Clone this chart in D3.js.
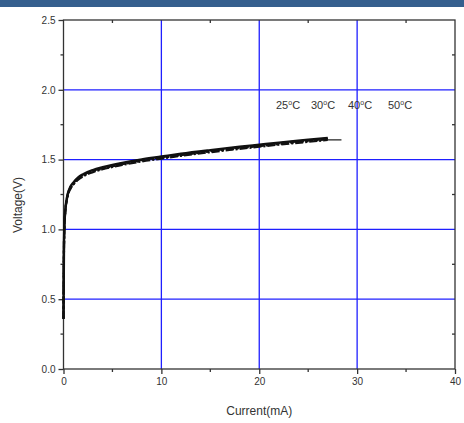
<!DOCTYPE html>
<html>
<head>
<meta charset="utf-8">
<script src="https://cdn.jsdelivr.net/npm/d3@7"></script>
<style>
  body { margin: 0; background: #fff; }
  svg { display: block; font-family: "Liberation Sans", Arial, sans-serif; }
</style>
</head>
<body>
<svg></svg>
<script>
// I-V curves
const current = [0, 0.05, 0.1, 0.2, 0.4, 0.7, 1, 1.5, 2, 3, 4, 5, 6, 8, 10, 12, 15, 18, 20, 22, 25, 27];
const v25 = [0.36, 0.9, 1.05, 1.15, 1.245, 1.305, 1.335, 1.372, 1.395, 1.425, 1.445, 1.462, 1.477, 1.502, 1.522, 1.542, 1.568, 1.592, 1.607, 1.622, 1.642, 1.656];
const v30 = [0.36, 0.89, 1.04, 1.145, 1.24, 1.3, 1.33, 1.367, 1.39, 1.42, 1.44, 1.457, 1.472, 1.497, 1.517, 1.537, 1.563, 1.587, 1.602, 1.617, 1.637, 1.651];
const v40 = [0.36, 0.88, 1.03, 1.14, 1.235, 1.295, 1.325, 1.362, 1.385, 1.415, 1.436, 1.452, 1.467, 1.492, 1.512, 1.532, 1.558, 1.582, 1.597, 1.612, 1.632, 1.646];
const v50 = [0.36, 0.87, 1.02, 1.135, 1.23, 1.29, 1.32, 1.357, 1.38, 1.41, 1.431, 1.447, 1.462, 1.487, 1.507, 1.527, 1.553, 1.577, 1.592, 1.607, 1.627, 1.641];
// the 50°C trace runs a bit further
const tailI = [27, 28.4];
const tailV = [1.641, 1.642];
const tempLabels = ["25", "30", "40", "50"];
const xTicks = [0, 10, 20, 30, 40];
const yTicks = [0.0, 0.5, 1.0, 1.5, 2.0, 2.5];

(function chart() {
  const W = 464, H = 423;
  const svg = d3.select("svg").attr("width", W).attr("height", H);

  // blue strip across the top
  svg.append("rect").attr("x", 0).attr("y", 0).attr("width", W).attr("height", 7).attr("fill", "#355f8e");

  const mLeft = 63.5, mRight = 455, mTop = 20, mBottom = 369;
  const x = d3.scaleLinear().domain([0, 40]).range([mLeft, mRight]);
  const y = d3.scaleLinear().domain([0, 2.5]).range([mBottom, mTop]);

  const axisCol = "#333";
  const gridCol = "#1f1fff";

  // grid
  svg.append("g").selectAll("line").data(xTicks.filter(d => d > 0 && d < 40)).join("line")
      .attr("x1", d => x(d)).attr("x2", d => x(d)).attr("y1", mTop).attr("y2", mBottom)
      .attr("stroke", gridCol).attr("stroke-width", 1.3);
  svg.append("g").selectAll("line").data(yTicks.filter(d => d > 0 && d < 2.5)).join("line")
      .attr("x1", mLeft).attr("x2", mRight).attr("y1", d => y(d)).attr("y2", d => y(d))
      .attr("stroke", gridCol).attr("stroke-width", 1.3);

  // frame
  svg.append("rect").attr("x", mLeft).attr("y", mTop).attr("width", mRight - mLeft).attr("height", mBottom - mTop)
      .attr("fill", "none").attr("stroke", axisCol).attr("stroke-width", 1.3);

  // bottom axis
  const xAxis = svg.append("g").attr("transform", `translate(0,${mBottom})`)
      .call(d3.axisBottom(x).tickValues(xTicks).tickSize(5).tickPadding(4).tickFormat(d3.format("d")));
  // left axis
  const yAxis = svg.append("g").attr("transform", `translate(${mLeft},0)`)
      .call(d3.axisLeft(y).tickValues(yTicks).tickSize(5).tickPadding(3).tickFormat(d3.format(".1f")));
  [xAxis, yAxis].forEach(g => {
    g.select(".domain").remove();
    g.selectAll("line").attr("stroke", axisCol).attr("stroke-width", 1.3);
    g.selectAll("text").attr("fill", "#333").style("font-size", "10px");
  });

  // minor ticks
  const xMinor = [5, 15, 25, 35];
  const yMinor = [0.25, 0.75, 1.25, 1.75, 2.25];
  svg.append("g").selectAll("line").data(xMinor).join("line")
      .attr("x1", d => x(d)).attr("x2", d => x(d)).attr("y1", mBottom).attr("y2", mBottom + 3)
      .attr("stroke", axisCol).attr("stroke-width", 1.3);
  svg.append("g").selectAll("line").data(xMinor).join("line")
      .attr("x1", d => x(d)).attr("x2", d => x(d)).attr("y1", mTop).attr("y2", mTop + 3)
      .attr("stroke", axisCol).attr("stroke-width", 1.3);
  svg.append("g").selectAll("line").data(yMinor).join("line")
      .attr("x1", mLeft - 3).attr("x2", mLeft).attr("y1", d => y(d)).attr("y2", d => y(d))
      .attr("stroke", axisCol).attr("stroke-width", 1.3);
  svg.append("g").selectAll("line").data(yMinor).join("line")
      .attr("x1", mRight - 3).attr("x2", mRight).attr("y1", d => y(d)).attr("y2", d => y(d))
      .attr("stroke", axisCol).attr("stroke-width", 1.3);

  // curves
  const line = d3.line().x(d => x(d[0])).y(d => y(d[1])).curve(d3.curveMonotoneX);
  const series = [
    { v: v25, dash: null, w: 2.4 },
    { v: v30, dash: "6,2", w: 2.2 },
    { v: v40, dash: "3,2", w: 2.2 },
    { v: v50, dash: "8,2,2,2", w: 2.2 }
  ];
  series.forEach(s => {
    svg.append("path")
        .datum(current.map((c, i) => [c, s.v[i]]))
        .attr("d", line)
        .attr("fill", "none").attr("stroke", "#111")
        .attr("stroke-width", s.w)
        .attr("stroke-dasharray", s.dash);
  });
  svg.append("path")
      .datum(tailI.map((c, i) => [c, tailV[i]]))
      .attr("d", line)
      .attr("fill", "none").attr("stroke", "#222").attr("stroke-width", 1.2);

  // temperature labels
  const labX = [276, 311, 348, 388];
  tempLabels.forEach((t, i) => {
    const txt = svg.append("text").attr("x", labX[i]).attr("y", 109)
        .attr("fill", "#333").style("font-size", "11px");
    txt.append("tspan").text(t);
    txt.append("tspan").attr("dy", -4).style("font-size", "7px").text("o");
    txt.append("tspan").attr("dy", 4).text("C");
  });

  // axis titles
  svg.append("text").attr("x", (mLeft + mRight) / 2).attr("y", 415).attr("text-anchor", "middle")
      .attr("fill", "#333").style("font-size", "12px").text("Current(mA)");
  svg.append("text").attr("transform", `translate(22,205) rotate(-90)`).attr("text-anchor", "middle")
      .attr("fill", "#333").style("font-size", "12px").text("Voltage(V)");
})();
</script>
</body>
</html>
